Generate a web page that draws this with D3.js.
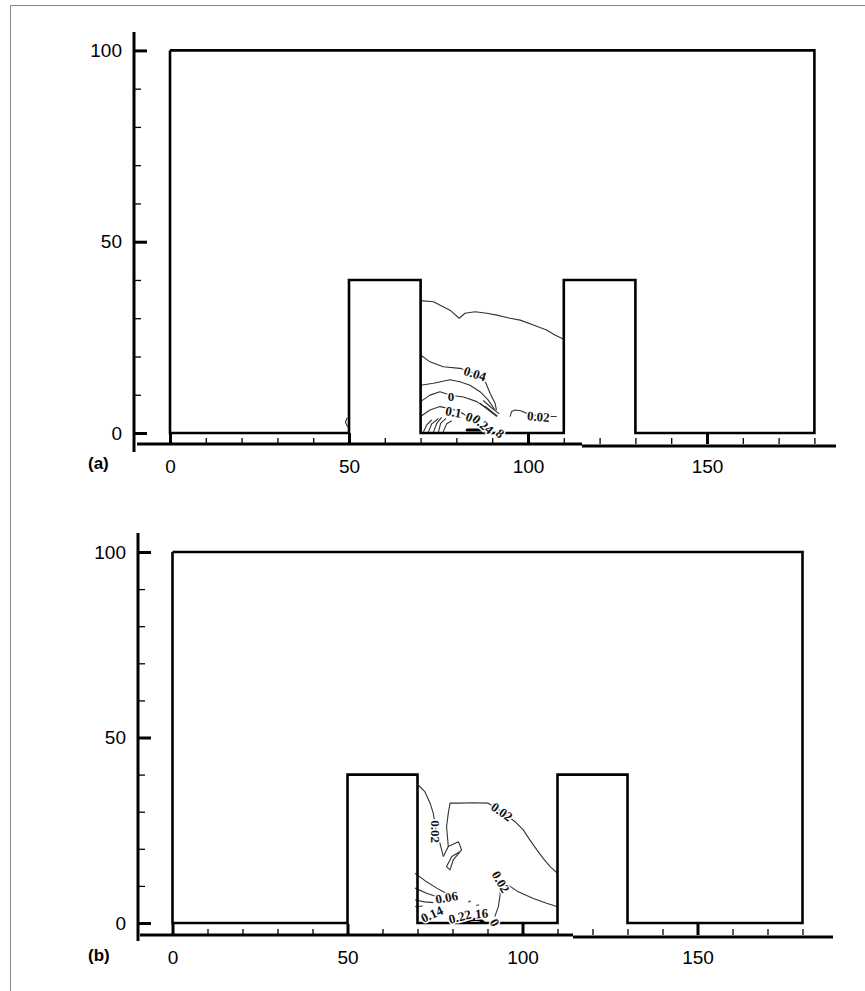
<!DOCTYPE html>
<html><head><meta charset="utf-8">
<script src="https://cdn.jsdelivr.net/npm/d3@7"></script>
<style>
html,body{margin:0;padding:0;background:#fff;}
svg{display:block;}
</style>
</head><body>
<svg id="chart" width="865" height="991"></svg>
<script>
// ---------- data ----------
const xMajorTicks = [0, 50, 100, 150];
const xMinorTicks = [10, 20, 30, 40, 60, 70, 80, 90, 110, 120, 130, 140, 160, 170, 180];
const yMajorTicks = [0, 50, 100];
const yMinorTicks = [10, 20, 30, 40, 60, 70, 80, 90];
const panelTags = ["(a)", "(b)"];

// domain outline: channel with two square obstacles (x 50-70 and 110-130, height 40)
const outline = [[0,100],[0,0],[50,0],[50,40],[70,40],[70,0],[110,0],[110,40],[130,40],[130,0],[180,0],[180,100],[0,100]];

// ---- panel (a) contour lines (data units) ----
const a_top = [[70,34.6],[73.6,34.3],[76.3,33.0],[78.2,32.1],[80.8,30.0],[82.4,31.3],[85.2,31.7],[88.5,31.3],[91.3,30.8],[95,30.0],[97.8,29.5],[101.5,28.2],[105.2,26.9],[107.5,25.6],[110,24.5]];
const a_004 = [[70,20.4],[72.6,18.6],[76.3,17.3],[81,16.9],[85,15.6],[88,13.6],[89.4,10.4],[90.8,7.8],[91.2,6.0]];
const a_006 = [[70,12.5],[73.6,13.0],[78.2,13.9],[81,13.4],[83.8,12.5],[86.6,10.8],[88.9,8.6],[90.8,6.0]];
const a_008 = [[70,8.2],[72.6,9.9],[75.4,10.8],[78.7,9.8],[82,9.4],[85.7,8.2],[88.5,6.4],[90.3,5.1]];
const a_010 = [[70,4.3],[72.6,6.0],[75.4,6.9],[79,6.2],[82,5.0],[84,3.5],[86,2]];
const a_arc1 = [[70.8,0.3],[71.7,2.1],[73.1,3.4]];
const a_arc2 = [[72.2,0.3],[73.1,2.4],[75,3.8]];
const a_arc3 = [[73.6,0.3],[74.5,2.5],[75.9,4.1]];
const a_arc4 = [[75,0.3],[75.6,2.5],[77.1,3.8]];
const a_arc5 = [[76.3,0.3],[77.3,2.4],[78.7,3.2]];
const a_b1 = [[86.6,7.8],[89,6],[91.3,4.3]];
const a_b2 = [[87.5,8.5],[89.8,6.6],[92,5]];
const a_b3 = [[88,7],[90,5.5],[91.5,4.4]];
const a_002 = [[95,4.3],[95.4,5.6],[96.4,6.0],[98,5.8],[100,5],[103,4.5],[106,4.3],[108,4.3]];
const a_wall = [[49.5,4],[49,2.8],[49.6,1.6]];
const a_blob = [[83,0.8],[88,0.8]];
const a_labels = [
  {t:"0.04", x:85.2, y:15.5, r:18},
  {t:"0", x:78.5, y:9.6, r:0},
  {t:"0.1", x:79.2, y:5.5, r:10},
  {t:"0", x:83.6, y:4.2, r:20},
  {t:"0.24", x:87.4, y:2.3, r:40},
  {t:"8", x:92.2, y:-0.1, r:40},
  {t:"0.02", x:102.9, y:4.3, r:5}
];

// ---- panel (b) contour lines (data units) ----
const b_left002 = [[70.2,37.2],[72.1,35.4],[73.6,32.3],[74.5,29.6],[75.3,25],[76.4,21.5],[77.4,17.9]];
const b_tangle = [[77.4,17.9],[78.8,20.6],[81.7,21.9],[82.6,19.7],[80.2,17.0],[79.3,14.3],[78.3,15.2],[79.8,17.9],[82.1,19.2]];
const b_upper002 = [[78.8,20.6],[78.3,26],[78.8,29.6],[79.3,32.3],[82.1,32.3],[85.9,32.4],[90.2,32.3],[94.1,30.0],[97.9,27.3],[100.2,25.1],[102.1,22.4],[104.1,19.7],[105.9,17.4],[107.9,15.2],[110,13.4]];
const b_lower002 = [[92.1,1.7],[93.1,4.4],[93.6,7.5],[93.6,11],[95.5,10.5],[98.8,8.4],[103.1,6.6],[106.9,5.3],[110,4.4]];
const b_l1 = [[69.3,13.4],[72.6,11.1],[75.5,9.4],[77.4,8.4],[80,7.2]];
const b_l2 = [[69.3,9.4],[72.6,8.0],[75.5,7.1]];
const b_l3 = [[69.3,6.2],[72.1,5.7],[74.5,5.5]];
const b_l4 = [[69.3,4.4],[71.5,4.6]];
const b_d1 = [[84.5,5.6],[85.2,6.0]];
const b_d2 = [[86.8,4.7],[87.6,4.9]];
const b_dome = [[84,0.2],[85,0.8],[86.5,1.0],[88,0.8],[88.8,0.2]];
const b_labels = [
  {t:"0.02", x:75.3, y:24.6, r:90},
  {t:"0.02", x:94.1, y:30.0, r:35},
  {t:"0.02", x:93.8, y:11.1, r:60},
  {t:"0.06", x:78.3, y:6.9, r:-10},
  {t:"0.14", x:74.1, y:2.4, r:-25},
  {t:"0.22", x:82.1, y:1.7, r:-15},
  {t:"16", x:88.3, y:2.6, r:-5},
  {t:"0", x:92.1, y:0.1, r:60}
];

const panels = [
  {tag: panelTags[0], x0:170, x180:814.4, y0:433, y100:50.4, axisX:134, axisTop:32, axisBot:452,
   xAxisY:444, xAxisL:137, xAxisR:836, breakX:582, tagY:469,
   thin:[a_top,a_004,a_006,a_008,a_010,a_arc1,a_arc2,a_arc3,a_arc4,a_arc5,a_b1,a_b2,a_b3,a_002,a_wall],
   thick:[a_blob], labels:a_labels},
  {tag: panelTags[1], x0:172.5, x180:802.5, y0:923, y100:552, axisX:138, axisTop:533, axisBot:941,
   xAxisY:935, xAxisL:140, xAxisR:833, breakX:573, tagY:961,
   thin:[b_left002,b_tangle,b_upper002,b_lower002,b_l1,b_l2,b_l3,b_l4,b_d1,b_d2],
   thick:[b_dome], labels:b_labels}
];

// ---------- drawing ----------
const svg = d3.select("#chart");
// page frame
svg.append("rect").attr("x",10.5).attr("y",5.5).attr("width",900).attr("height",1000)
  .attr("fill","none").attr("stroke","#888").attr("stroke-width",1);

panels.forEach(p => {
  const x = d3.scaleLinear().domain([0,180]).range([p.x0, p.x180]);
  const y = d3.scaleLinear().domain([0,100]).range([p.y0, p.y100]);
  const g = svg.append("g");
  const line = d3.line().x(d => x(d[0])).y(d => y(d[1]));

  // contour lines
  g.selectAll("path.c").data(p.thin).join("path")
    .attr("d", line).attr("fill","none").attr("stroke","#333").attr("stroke-width",1.1)
    .attr("stroke-linejoin","round");
  g.selectAll("path.t").data(p.thick).join("path")
    .attr("d", line).attr("fill","none").attr("stroke","#000").attr("stroke-width",3)
    .attr("stroke-linecap","round");

  // domain outline
  g.append("path").attr("d", line(outline)).attr("fill","none")
    .attr("stroke","#000").attr("stroke-width",2.6).attr("stroke-linejoin","miter");

  // contour labels
  g.selectAll("text.lab").data(p.labels).join("text")
    .attr("transform", d => `translate(${x(d.x)},${y(d.y)}) rotate(${d.r})`)
    .attr("text-anchor","middle").attr("dy","0.35em")
    .attr("font-family","'Liberation Serif','Times New Roman',serif")
    .attr("font-weight","bold").attr("font-size",13)
    .attr("fill","#111").attr("stroke","#fff").attr("stroke-width",3)
    .attr("paint-order","stroke")
    .text(d => d.t);

  // y axis
  const yAx = g.append("g").attr("transform",`translate(${p.axisX},0)`);
  yAx.call(d3.axisLeft(y).tickValues(yMajorTicks).tickSizeInner(-13).tickSizeOuter(0).tickPadding(12));
  yAx.select(".domain").remove();
  yAx.selectAll(".tick line").attr("stroke","#000").attr("stroke-width",3);
  yAx.selectAll(".tick text").attr("font-family","'Liberation Sans',Arial,sans-serif")
    .attr("font-size",19).attr("fill","#000");
  const yMin = g.append("g").attr("transform",`translate(${p.axisX},0)`);
  yMin.call(d3.axisLeft(y).tickValues(yMinorTicks).tickSizeInner(-7).tickSizeOuter(0).tickFormat(""));
  yMin.select(".domain").remove();
  yMin.selectAll(".tick line").attr("stroke","#000").attr("stroke-width",1.3);
  g.append("line").attr("x1",p.axisX).attr("x2",p.axisX).attr("y1",p.axisTop).attr("y2",p.axisBot)
    .attr("stroke","#000").attr("stroke-width",3);

  // x axis
  const xAx = g.append("g").attr("transform",`translate(0,${p.xAxisY})`);
  xAx.call(d3.axisBottom(x).tickValues(xMajorTicks).tickSizeInner(-11).tickSizeOuter(0).tickPadding(16));
  xAx.select(".domain").remove();
  xAx.selectAll(".tick line").attr("stroke","#000").attr("stroke-width",3);
  xAx.selectAll(".tick text").attr("font-family","'Liberation Sans',Arial,sans-serif")
    .attr("font-size",19).attr("fill","#000");
  const xMin = g.append("g").attr("transform",`translate(0,${p.xAxisY})`);
  xMin.call(d3.axisBottom(x).tickValues(xMinorTicks).tickSizeInner(-6).tickSizeOuter(0).tickFormat(""));
  xMin.select(".domain").remove();
  xMin.selectAll(".tick line").attr("stroke","#000").attr("stroke-width",1.3);
  g.append("line").attr("x1",p.xAxisL).attr("x2",p.breakX).attr("y1",p.xAxisY).attr("y2",p.xAxisY)
    .attr("stroke","#000").attr("stroke-width",3);
  g.append("line").attr("x1",p.breakX).attr("x2",p.xAxisR).attr("y1",p.xAxisY+2).attr("y2",p.xAxisY+2)
    .attr("stroke","#000").attr("stroke-width",3);

  // panel tag
  g.append("text").attr("x",88).attr("y",p.tagY)
    .attr("font-family","'Liberation Sans',Arial,sans-serif").attr("font-weight","bold")
    .attr("font-size",17).attr("fill","#000").text(p.tag);
});
</script>
</body></html>
